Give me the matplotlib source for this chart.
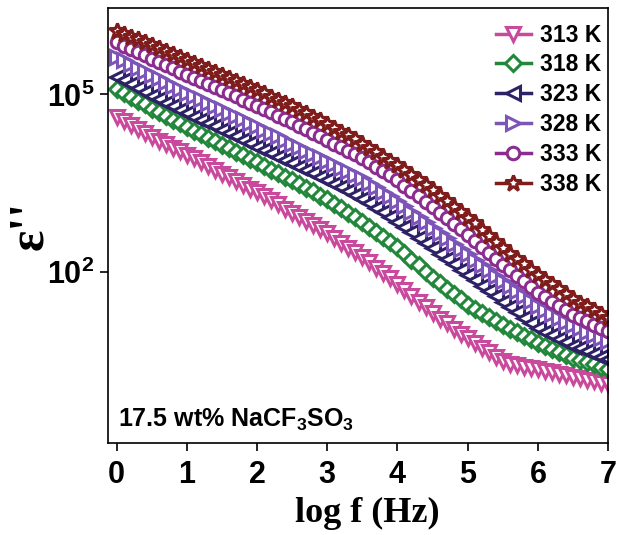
import matplotlib
matplotlib.use("Agg")
import matplotlib.pyplot as plt
import numpy as np

plt.rcParams['mathtext.fontset'] = 'custom'
plt.rcParams['mathtext.bf'] = 'Liberation Sans:bold'
plt.rcParams['mathtext.rm'] = 'Liberation Sans'
plt.rcParams['font.family'] = ['Liberation Sans', 'DejaVu Sans']

# log f grid (Hz) and log10(eps'')
log_f = np.round(np.arange(0, 7.01, 0.1), 2)

eps_313 = [4.62, 4.55, 4.48, 4.41, 4.35, 4.28, 4.22, 4.16, 4.10, 4.04, 3.98,
           3.92, 3.85, 3.79, 3.72, 3.66, 3.60, 3.54, 3.47, 3.41, 3.35,
           3.28, 3.21, 3.14, 3.07, 3.00, 2.93, 2.86, 2.79, 2.72, 2.65,
           2.57, 2.49, 2.41, 2.33, 2.25, 2.16, 2.07, 1.98, 1.89, 1.80,
           1.70, 1.60, 1.50, 1.40, 1.30, 1.21, 1.13, 1.04, 0.96, 0.88,
           0.80, 0.72, 0.64, 0.56, 0.49, 0.45, 0.42, 0.40, 0.38, 0.36,
           0.33, 0.31, 0.28, 0.26, 0.23, 0.20, 0.18, 0.15, 0.13, 0.10]
eps_318 = [5.10, 5.03, 4.96, 4.89, 4.83, 4.76, 4.70, 4.64, 4.57, 4.51, 4.45,
           4.39, 4.33, 4.27, 4.21, 4.15, 4.09, 4.03, 3.97, 3.91, 3.85,
           3.79, 3.73, 3.67, 3.61, 3.55, 3.49, 3.42, 3.36, 3.29, 3.23,
           3.15, 3.08, 3.00, 2.93, 2.85, 2.76, 2.68, 2.59, 2.51, 2.42,
           2.32, 2.21, 2.11, 2.00, 1.90, 1.81, 1.72, 1.63, 1.54, 1.45,
           1.38, 1.31, 1.24, 1.17, 1.10, 1.04, 0.98, 0.92, 0.86, 0.80,
           0.75, 0.70, 0.65, 0.60, 0.55, 0.51, 0.47, 0.44, 0.40, 0.36]
eps_323 = [5.30, 5.24, 5.17, 5.11, 5.04, 4.98, 4.92, 4.86, 4.80, 4.74, 4.68,
           4.62, 4.57, 4.51, 4.46, 4.40, 4.34, 4.29, 4.23, 4.18, 4.12,
           4.06, 4.01, 3.95, 3.90, 3.84, 3.78, 3.72, 3.67, 3.61, 3.55,
           3.49, 3.43, 3.36, 3.30, 3.24, 3.16, 3.08, 3.01, 2.93, 2.85,
           2.76, 2.67, 2.58, 2.49, 2.40, 2.31, 2.22, 2.13, 2.04, 1.95,
           1.86, 1.77, 1.68, 1.59, 1.50, 1.41, 1.32, 1.23, 1.14, 1.05,
           0.99, 0.93, 0.87, 0.81, 0.75, 0.71, 0.66, 0.62, 0.57, 0.53]
eps_328 = [5.64, 5.58, 5.52, 5.45, 5.39, 5.33, 5.27, 5.21, 5.15, 5.09, 5.03,
           4.97, 4.92, 4.86, 4.81, 4.75, 4.69, 4.63, 4.58, 4.52, 4.46,
           4.40, 4.34, 4.29, 4.23, 4.17, 4.11, 4.05, 4.00, 3.94, 3.88,
           3.82, 3.76, 3.70, 3.64, 3.58, 3.50, 3.43, 3.35, 3.28, 3.20,
           3.11, 3.02, 2.93, 2.84, 2.75, 2.66, 2.57, 2.48, 2.39, 2.30,
           2.21, 2.12, 2.03, 1.94, 1.85, 1.76, 1.68, 1.59, 1.51, 1.42,
           1.36, 1.29, 1.23, 1.16, 1.10, 1.05, 0.99, 0.94, 0.88, 0.83]
eps_333 = [5.88, 5.82, 5.77, 5.71, 5.66, 5.60, 5.55, 5.49, 5.44, 5.38, 5.33,
           5.28, 5.23, 5.17, 5.12, 5.07, 5.02, 4.97, 4.91, 4.86, 4.81,
           4.75, 4.70, 4.64, 4.59, 4.53, 4.47, 4.41, 4.35, 4.29, 4.23,
           4.17, 4.11, 4.05, 3.99, 3.92, 3.85, 3.78, 3.70, 3.63, 3.55,
           3.46, 3.37, 3.28, 3.19, 3.10, 3.00, 2.91, 2.81, 2.72, 2.62,
           2.52, 2.42, 2.32, 2.22, 2.12, 2.03, 1.93, 1.84, 1.74, 1.65,
           1.58, 1.50, 1.43, 1.35, 1.28, 1.22, 1.17, 1.11, 1.06, 1.00]
eps_338 = [6.07, 6.02, 5.97, 5.93, 5.88, 5.83, 5.78, 5.73, 5.68, 5.63, 5.58,
           5.53, 5.48, 5.43, 5.38, 5.33, 5.28, 5.23, 5.18, 5.12, 5.07,
           5.02, 4.96, 4.91, 4.85, 4.80, 4.74, 4.68, 4.62, 4.56, 4.50,
           4.44, 4.37, 4.31, 4.24, 4.17, 4.10, 4.03, 3.95, 3.88, 3.80,
           3.72, 3.64, 3.55, 3.47, 3.38, 3.29, 3.20, 3.10, 3.01, 2.92,
           2.82, 2.71, 2.61, 2.50, 2.40, 2.31, 2.22, 2.13, 2.04, 1.95,
           1.87, 1.79, 1.71, 1.63, 1.55, 1.48, 1.42, 1.35, 1.29, 1.22]

labels = ['313 K', '318 K', '323 K', '328 K', '333 K', '338 K']
series = [eps_313, eps_318, eps_323, eps_328, eps_333, eps_338]
colors = ['#c94a9c', '#22873a', '#2e2266', '#7d55b8', '#8b2d8f', '#7f1d1d']
markers = ['v', 'D', '<', '>', 'o', '*']
msizes = [10, 8, 10, 10, 9, 12]

fig = plt.figure(figsize=(6.18, 5.35), dpi=100)
ax = fig.add_axes([0.175, 0.172, 0.809, 0.813])

for lab, vals, c, m, ms in zip(labels, series, colors, markers, msizes):
    ax.plot(log_f, 10 ** np.array(vals), color=c, marker=m, markersize=ms,
            markerfacecolor='white', markeredgecolor=c, markeredgewidth=2.2,
            linewidth=2.5, label=lab)

ax.set_yscale('log')
ax.set_xlim(-0.12, 7.0)
ax.set_ylim(10 ** -0.89, 10 ** 6.46)
ax.set_yticks([1e2, 1e5])
ax.set_yticklabels([r'$\mathbf{10^2}$', r'$\mathbf{10^5}$'])
ax.yaxis.set_minor_locator(matplotlib.ticker.NullLocator())
ax.set_xticks(range(8))

ax.tick_params(direction='out', length=6, width=1.2, labelsize=22)
ax.tick_params(axis='x', pad=6)
ax.tick_params(axis='y', pad=4)
for t in ax.get_xticklabels():
    t.set_fontweight('bold')
for s in ax.spines.values():
    s.set_linewidth(1.2)

ax.set_xlabel('log f (Hz)', fontfamily='Liberation Serif', fontweight='bold',
              fontsize=26)
ax.xaxis.set_label_coords(0.518, -0.125)
ax.set_ylabel("ε''", fontfamily='Liberation Serif', fontweight='bold',
              fontsize=36)
ax.yaxis.set_label_coords(-0.111, 0.5)

ax.text(0.02, 0.037, r'17.5 wt% NaCF$_\mathbf{3}$SO$_\mathbf{3}$',
        transform=ax.transAxes, fontweight='bold', fontsize=18, va='baseline')

leg = ax.legend(loc='upper right', bbox_to_anchor=(1.0, 0.98), frameon=False,
                handlelength=1.5, labelspacing=0.3, handletextpad=0.4,
                borderaxespad=0.0, borderpad=0.3,
                prop={'weight': 'bold', 'size': 16.5})

fig.savefig('out.png', dpi=100)
